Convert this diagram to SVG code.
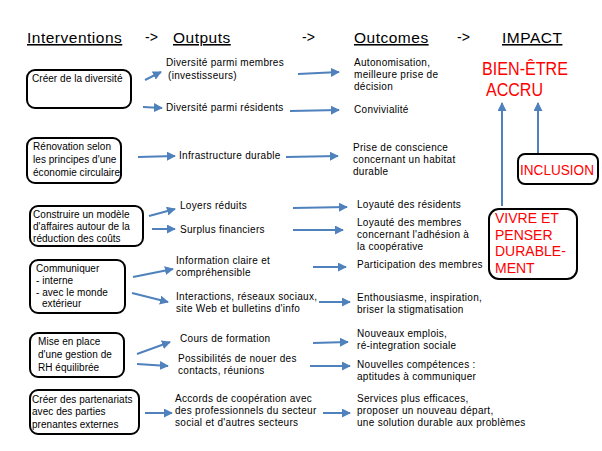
<svg xmlns="http://www.w3.org/2000/svg" width="602" height="451" viewBox="0 0 602 451">
<defs>
<marker id="ah" viewBox="0 0 10 10" refX="9" refY="5" markerWidth="4.5" markerHeight="4.5" orient="auto" markerUnits="strokeWidth">
<path d="M0,0 L10,5 L0,10 z" fill="#4F81BD"/>
</marker>
<style>
text{font-family:"Liberation Sans",Arial,sans-serif;fill:#000}
.h{font-size:15.5px;text-decoration:underline;letter-spacing:0.5px}
.t{font-size:10px;letter-spacing:0.3px}
.b{font-size:10px;letter-spacing:0.05px}
.r{fill:#FF0000}
.box{fill:#fff;stroke:#000;stroke-width:2}
.c line{stroke:#4F81BD;stroke-width:2;marker-end:url(#ah)}
</style>
</defs>
<rect width="602" height="451" fill="#fff"/>
<g id="headers">
<text class="h" x="27" y="43">Interventions</text>
<text x="145" y="42" style="font-size:14px">-&gt;</text>
<text class="h" x="173" y="43">Outputs</text>
<text x="302" y="42" style="font-size:14px">-&gt;</text>
<text class="h" x="354" y="43">Outcomes</text>
<text x="457" y="42" style="font-size:14px">-&gt;</text>
<text class="h" x="502" y="43">IMPACT</text>
</g>
<g id="i1"><rect class="box" x="27" y="70" width="104" height="38" rx="8"/><text class="b" x="32" y="82">Créer de la diversité</text></g>
<g id="i2"><rect class="box" x="27" y="138" width="94" height="45" rx="8"/><text class="b"><tspan x="33" y="150">Rénovation selon</tspan><tspan x="33" y="163">les principes d'une</tspan><tspan x="33" y="176">économie circulaire</tspan></text></g>
<g id="i3"><rect class="box" x="30" y="206" width="113" height="40" rx="8"/><text class="b"><tspan x="33" y="218">Construire un modèle</tspan><tspan x="33" y="230">d'affaires autour de la</tspan><tspan x="33" y="242">réduction des coûts</tspan></text></g>
<g id="i4"><rect class="box" x="30" y="260" width="95" height="53" rx="8"/><text class="b"><tspan x="36" y="272">Communiquer</tspan><tspan x="36" y="284">- interne</tspan><tspan x="36" y="296">- avec le monde</tspan><tspan x="42" y="307">extérieur</tspan></text></g>
<g id="i5"><rect class="box" x="30" y="333" width="94" height="44" rx="8"/><text class="b"><tspan x="38" y="345">Mise en place</tspan><tspan x="38" y="358">d'une gestion de</tspan><tspan x="38" y="371">RH équilibrée</tspan></text></g>
<g id="i6"><rect class="box" x="30" y="390" width="109" height="44" rx="8"/><text class="b"><tspan x="32" y="403">Créer des partenariats</tspan><tspan x="32" y="415">avec des parties</tspan><tspan x="32" y="428">prenantes externes</tspan></text></g>
<g id="outputs">
<text class="t"><tspan x="166" y="66">Diversité parmi membres</tspan><tspan x="168" y="79">(investisseurs)</tspan></text>
<text class="t" x="166" y="111">Diversité parmi résidents</text>
<text class="t" x="179" y="159">Infrastructure durable</text>
<text class="t" x="180" y="209">Loyers réduits</text>
<text class="t" x="180" y="233">Surplus financiers</text>
<text class="t"><tspan x="176" y="264">Information claire et</tspan><tspan x="176" y="276">compréhensible</tspan></text>
<text class="t"><tspan x="176" y="300">Interactions, réseaux sociaux,</tspan><tspan x="176" y="312">site Web et bulletins d'info</tspan></text>
<text class="t" x="180" y="342">Cours de formation</text>
<text class="t"><tspan x="178" y="362">Possibilités de nouer des</tspan><tspan x="178" y="374">contacts, réunions</tspan></text>
<text class="t"><tspan x="175" y="402">Accords de coopération avec</tspan><tspan x="175" y="414">des professionnels du secteur</tspan><tspan x="175" y="426">social et d'autres secteurs</tspan></text>
</g>
<g id="outcomes">
<text class="t"><tspan x="354" y="66">Autonomisation,</tspan><tspan x="354" y="78">meilleure prise de</tspan><tspan x="354" y="90">décision</tspan></text>
<text class="t" x="354" y="113">Convivialité</text>
<text class="t"><tspan x="353" y="151">Prise de conscience</tspan><tspan x="353" y="163">concernant un habitat</tspan><tspan x="353" y="175">durable</tspan></text>
<text class="t" x="357" y="208">Loyauté des résidents</text>
<text class="t"><tspan x="357" y="226">Loyauté des membres</tspan><tspan x="357" y="238">concernant l'adhésion à</tspan><tspan x="357" y="250">la coopérative</tspan></text>
<text class="t" x="357" y="268">Participation des membres</text>
<text class="t"><tspan x="357" y="301">Enthousiasme, inspiration,</tspan><tspan x="357" y="313">briser la stigmatisation</tspan></text>
<text class="t"><tspan x="357" y="337">Nouveaux emplois,</tspan><tspan x="357" y="349">ré-integration sociale</tspan></text>
<text class="t"><tspan x="357" y="368">Nouvelles compétences :</tspan><tspan x="357" y="380">aptitudes à communiquer</tspan></text>
<text class="t"><tspan x="357" y="402">Services plus efficaces,</tspan><tspan x="357" y="414">proposer un nouveau départ,</tspan><tspan x="357" y="426">une solution durable aux problèmes</tspan></text>
</g>
<g id="impact">
<text class="r" x="482" y="75" style="font-size:18px" textLength="86" lengthAdjust="spacingAndGlyphs">BIEN-ÊTRE</text>
<text class="r" x="486" y="96" style="font-size:18px" textLength="57" lengthAdjust="spacingAndGlyphs">ACCRU</text>
</g>
<g id="inclusion"><rect class="box" x="518" y="154" width="80" height="30" rx="7"/><text class="r" x="520" y="175" style="font-size:14px" textLength="74" lengthAdjust="spacingAndGlyphs">INCLUSION</text></g>
<g id="vivre"><rect class="box" x="489" y="209" width="88" height="70" rx="10"/><text class="r" style="font-size:14px"><tspan x="495" y="223">VIVRE ET</tspan><tspan x="495" y="240">PENSER</tspan><tspan x="495" y="256">DURABLE-</tspan><tspan x="495" y="273">MENT</tspan></text></g>
<g class="c" id="connectors">
<line x1="145" y1="80" x2="161" y2="72"/>
<line x1="143" y1="107" x2="162" y2="108"/>
<line x1="138" y1="157" x2="175" y2="156"/>
<line x1="149" y1="216" x2="175" y2="209"/>
<line x1="152" y1="229" x2="175" y2="229"/>
<line x1="133" y1="277" x2="173" y2="269"/>
<line x1="132" y1="293" x2="168" y2="302"/>
<line x1="137" y1="354" x2="170" y2="342"/>
<line x1="137" y1="364" x2="168" y2="366"/>
<line x1="145" y1="413" x2="172" y2="413"/>
<line x1="298" y1="74" x2="339" y2="72"/>
<line x1="290" y1="111" x2="339" y2="110"/>
<line x1="286" y1="157" x2="338" y2="156"/>
<line x1="293" y1="208" x2="347" y2="207"/>
<line x1="293" y1="230" x2="343" y2="230"/>
<line x1="313" y1="267" x2="346" y2="267"/>
<line x1="319" y1="302" x2="350" y2="302"/>
<line x1="313" y1="343" x2="348" y2="342"/>
<line x1="310" y1="366" x2="350" y2="366"/>
<line x1="323" y1="413" x2="350" y2="413"/>
<line x1="502" y1="206" x2="502" y2="103"/>
<line x1="538" y1="153" x2="538" y2="103"/>
</g>
</svg>
